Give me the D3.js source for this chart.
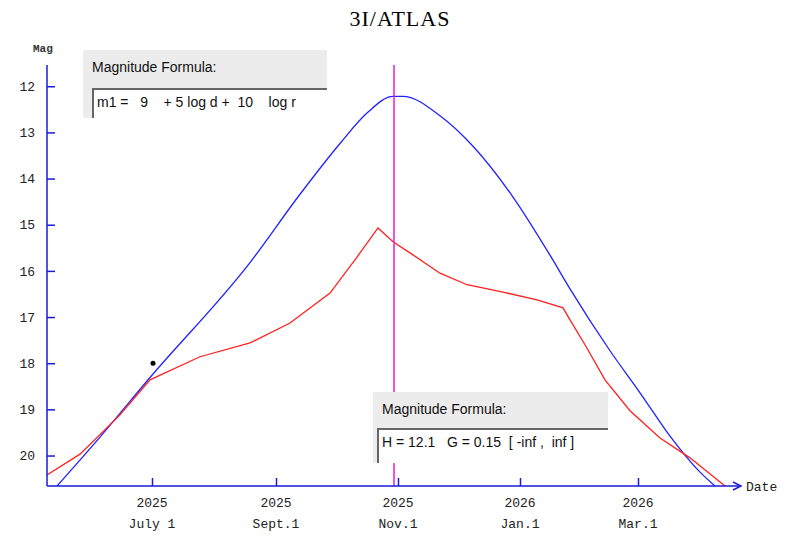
<!DOCTYPE html>
<html><head><meta charset="utf-8">
<script src="https://cdn.jsdelivr.net/npm/d3@7"></script>
<style>body{margin:0;background:#fff}</style></head>
<body><svg id="c" width="800" height="548"></svg>
<script>
const title = "3I/ATLAS";
const yTicks = [12,13,14,15,16,17,18,19,20];
const xTickDates = ["2025-07-01","2025-09-01","2025-11-01","2026-01-01","2026-03-01"];
const xTickYears = ["2025","2025","2025","2026","2026"];
const xTickMonths = ["July 1","Sept.1","Nov.1","Jan.1","Mar.1"];
// days relative to 2025-07-01
const blueDays = [-47.5,-26,-1,49,74,94,107.5,120.5,125.5,144,160.5,180.5,199,209,229,244,259,274,281.5];
const blueMag  = [20.66,19.6,18.31,15.82,14.34,13.24,12.58,12.22,12.22,12.64,13.30,14.40,15.66,16.39,17.73,18.64,19.58,20.36,20.66];
const redDays = [-52.5,-36,-16,-1,24,49,69,89,102.5,113,120.5,129,144,157.5,175.5,192.5,205.5,209,216.5,226.5,239,254,269,286.5];
const redMag  = [20.42,19.97,19.12,18.36,17.86,17.56,17.13,16.48,15.70,15.07,15.37,15.61,16.05,16.3,16.46,16.63,16.80,17.06,17.6,18.36,19.03,19.62,20.05,20.66];
const obsDay = [0.5], obsMag = [18.0];
const nowDay = 121;
const box1 = ["Magnitude Formula:", "m1 =   9    + 5 log d +  10    log r"];
const box2 = ["Magnitude Formula:", "H = 12.1   G = 0.15  [ -inf ,  inf ]"];

const svg = d3.select("#c");
const base = new Date(2025,6,1);
const d2 = d => new Date(base.getTime() + d*86400000);
const x = d3.scaleTime().domain([new Date(2025,6,1), new Date(2026,2,1)]).range([152,638]);
const y = d3.scaleLinear().domain([11.54,20.66]).range([65,486]);
const axisCol = "#1a1ad8";

svg.append("text").attr("x",400).attr("y",26).attr("text-anchor","middle")
  .attr("font-family","Liberation Serif").attr("font-size",22).attr("letter-spacing",1).text(title);

svg.append("defs").append("clipPath").attr("id","clip").append("rect").attr("x",47).attr("y",65).attr("width",700).attr("height",421);

const mk = () => d3.line().x(d=>x(d2(d[0]))).y(d=>y(d[1])).curve(d3.curveMonotoneX);
const g = svg.append("g").attr("clip-path","url(#clip)");
g.append("path").datum(blueDays.map((d,i)=>[d,blueMag[i]])).attr("d",mk()).attr("fill","none").attr("stroke","#2020ff").attr("stroke-width",1.3);
g.append("path").datum(redDays.map((d,i)=>[d,redMag[i]])).attr("d",d3.line().x(d=>x(d2(d[0]))).y(d=>y(d[1]))).attr("fill","none").attr("stroke","#ff2020").attr("stroke-width",1.3);

svg.append("line").attr("x1",x(d2(nowDay))).attr("x2",x(d2(nowDay))).attr("y1",65).attr("y2",486).attr("stroke","#e020e0").attr("stroke-width",1.5);

svg.selectAll(".obs").data(obsDay).enter().append("circle").attr("cx",d=>x(d2(d))).attr("cy",(d,i)=>y(obsMag[i])).attr("r",2.5).attr("fill","#000");

const ya = svg.append("g").attr("transform","translate(47,0)")
  .call(d3.axisRight(y).tickValues(yTicks).tickSize(8).tickFormat(d3.format("d")));
ya.select(".domain").attr("stroke",axisCol).attr("stroke-width",1.5).attr("d","M0,65V486");
ya.selectAll(".tick line").attr("stroke",axisCol).attr("stroke-width",1.5);
ya.selectAll(".tick text").attr("x",-12).attr("text-anchor","end").attr("font-family","Liberation Mono").attr("font-size",13).attr("fill","#222");
svg.append("text").attr("x",33).attr("y",52).attr("font-family","Liberation Mono").attr("font-weight","bold").attr("font-size",11).attr("fill","#333").text("Mag");

const xa = svg.append("g").attr("transform","translate(0,486)")
  .call(d3.axisTop(x).tickValues(xTickDates.map(s=>new Date(s+"T00:00"))).tickSize(8).tickFormat(""));
xa.select(".domain").attr("stroke",axisCol).attr("stroke-width",1.5).attr("d","M47,0H740");
xa.selectAll(".tick line").attr("stroke",axisCol).attr("stroke-width",1.5);
svg.append("path").attr("d","M733,482L741,486L733,490").attr("fill","none").attr("stroke",axisCol).attr("stroke-width",1.5);
svg.append("text").attr("x",746).attr("y",491).attr("font-family","Liberation Mono").attr("font-size",13).attr("fill","#222").text("Date");
xTickDates.forEach((s,i)=>{
  const px = x(new Date(s+"T00:00"));
  svg.append("text").attr("x",px).attr("y",507).attr("text-anchor","middle").attr("font-family","Liberation Mono").attr("font-size",13).attr("fill","#222").text(xTickYears[i]);
  svg.append("text").attr("x",px).attr("y",528).attr("text-anchor","middle").attr("font-family","Liberation Mono").attr("font-size",13).attr("fill","#222").text(xTickMonths[i]);
});

function box(bx,by,w,h,ix,iy,t){
  svg.append("rect").attr("x",bx).attr("y",by).attr("width",w).attr("height",h).attr("fill","#ececec");
  svg.append("rect").attr("x",ix).attr("y",iy).attr("width",bx+w-ix).attr("height",by+h-iy).attr("fill","#fff");
  svg.append("path").attr("d",`M${ix+1},${by+h}V${iy+1}H${bx+w}`).attr("fill","none").attr("stroke","#666").attr("stroke-width",2);
  svg.append("text").attr("x",bx+9).attr("y",by+22).attr("font-family","Liberation Sans").attr("font-size",14).attr("fill","#111").text(t[0]);
  svg.append("text").attr("x",ix+5).attr("y",iy+19).attr("font-family","Liberation Sans").attr("font-size",14).attr("fill","#111").style("white-space","pre").text(t[1]);
}
box(83,50,244,68,92,88,box1);
box(373,392,235,71,377,428,box2);
</script></body></html>
